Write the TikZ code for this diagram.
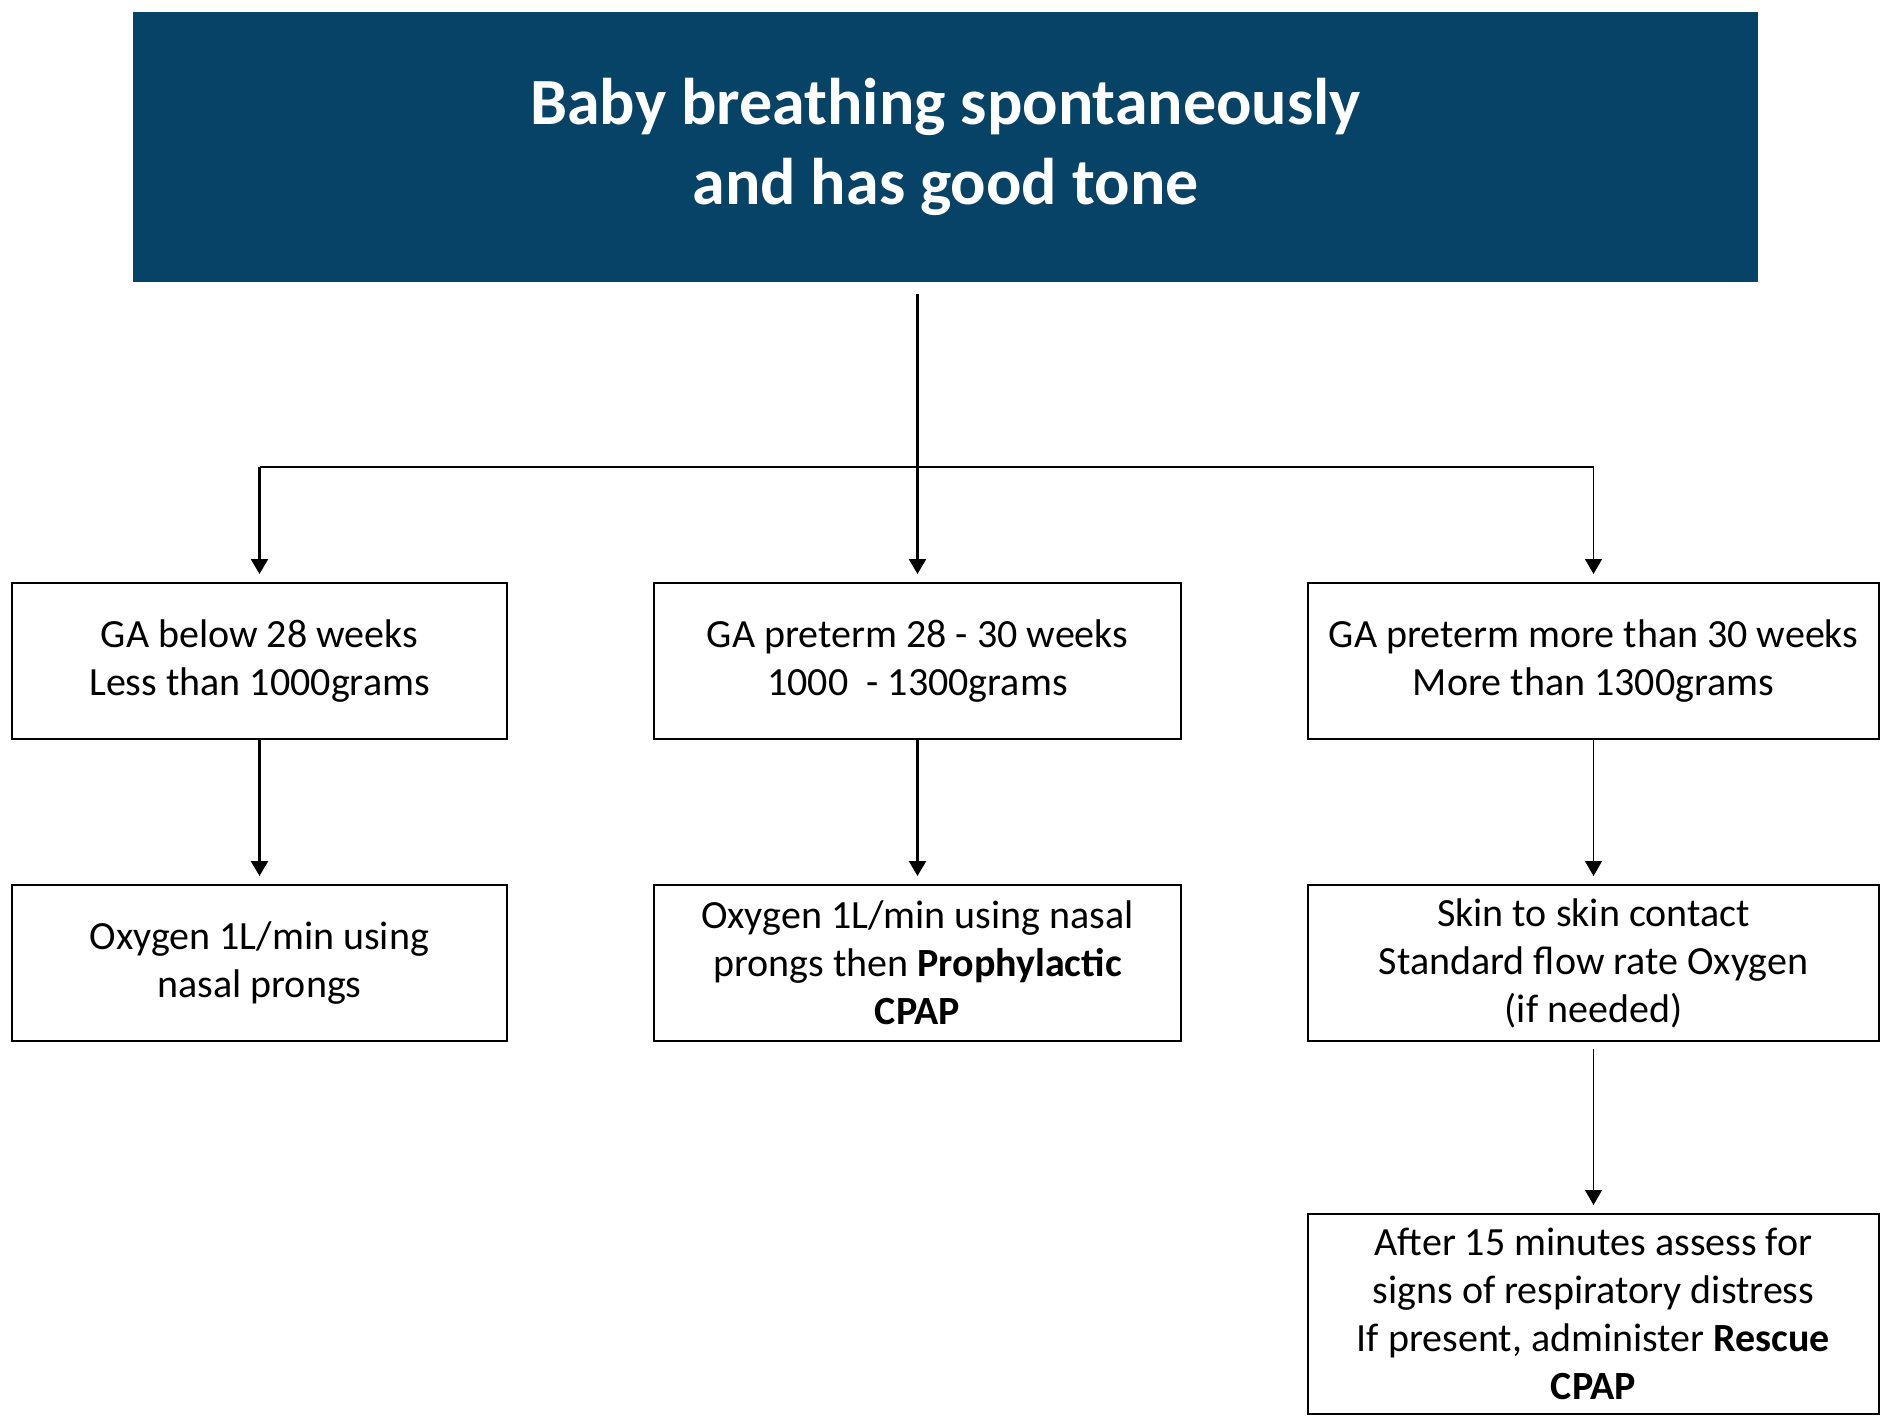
\documentclass[tikz,border=0pt]{standalone}
\usepackage{fontspec}
\setmainfont{Carlito}
\usepackage{tikz}
\usetikzlibrary{arrows.meta,positioning,calc}
\definecolor{headblue}{HTML}{064366}
\tikzset{
  headbox/.style={fill=headblue, text=white, align=center, font=\fontsize{33}{40}\selectfont\bfseries, minimum width=812.5pt, minimum height=135pt, inner sep=0pt},
  flowbox/.style={draw=black, fill=white, line width=1pt, align=center, font=\fontsize{20}{24}\selectfont, inner sep=0pt},
  thickedge/.style={-{Triangle[length=7.5pt,width=8.5pt]}, line width=1.2pt, draw=black, shorten >=4pt},
  thinedge/.style={-{Triangle[length=7.5pt,width=8.5pt]}, line width=0.65pt, draw=black, shorten >=4pt},
  splitline/.style={line width=0.9pt, draw=black}
}
\begin{document}
\begin{tikzpicture}[x=0.5pt, y=-0.5pt]
  \path[use as bounding box, fill=white] (0,0) rectangle (1885,1423);
  % header
  \node[headbox] (header) at (945.5,147) {Baby breathing spontaneously\\and has good tone};
  % first row
  \node[flowbox, minimum width=247.5pt, minimum height=78pt] (ga28) at (259.5,661) {GA below 28 weeks\\Less than 1000grams};
  \node[flowbox, minimum width=263.5pt, minimum height=78pt] (ga30) at (917.5,661) {GA preterm 28 - 30 weeks\\1000\ \ - 1300grams};
  \node[flowbox, minimum width=285.5pt, minimum height=78pt] (gaover) at (1593.5,661) {GA preterm more than 30 weeks\\More than 1300grams};
  % second row
  \node[flowbox, minimum width=247.5pt, minimum height=78pt] (oxy) at (259.5,963) {Oxygen 1L/min using\\nasal prongs};
  \node[flowbox, minimum width=263.5pt, minimum height=78pt] (cpap) at (917.5,963) {Oxygen 1L/min using nasal\\prongs then \textbf{Prophylactic}\\\textbf{CPAP}};
  \node[flowbox, minimum width=285.5pt, minimum height=78pt] (skin) at (1593.5,963) {Skin to skin contact\\Standard flow rate Oxygen\\(if needed)};
  % rescue
  \node[flowbox, minimum width=285.5pt, minimum height=100pt] (rescue) at (1593.5,1314) {After 15 minutes assess for\\signs of respiratory distress\\If present, administer \textbf{Rescue}\\\textbf{CPAP}};
  % connectors
  \coordinate (split) at (917.5,467);
  \draw[thickedge] ([yshift=-6pt]header.south -| ga30.north) -- (ga30.north);
  \draw[splitline] (ga28.north |- split) -- (gaover.north |- split);
  \draw[thickedge] (ga28.north |- split) -- (ga28.north);
  \draw[thinedge] (gaover.north |- split) -- (gaover.north);
  \draw[thickedge] (ga28.south) -- (oxy.north);
  \draw[thickedge] (ga30.south) -- (cpap.north);
  \draw[thinedge] (gaover.south) -- (skin.north);
  \draw[thinedge] ([yshift=-3.5pt]skin.south) -- (rescue.north);
\end{tikzpicture}
\end{document}
